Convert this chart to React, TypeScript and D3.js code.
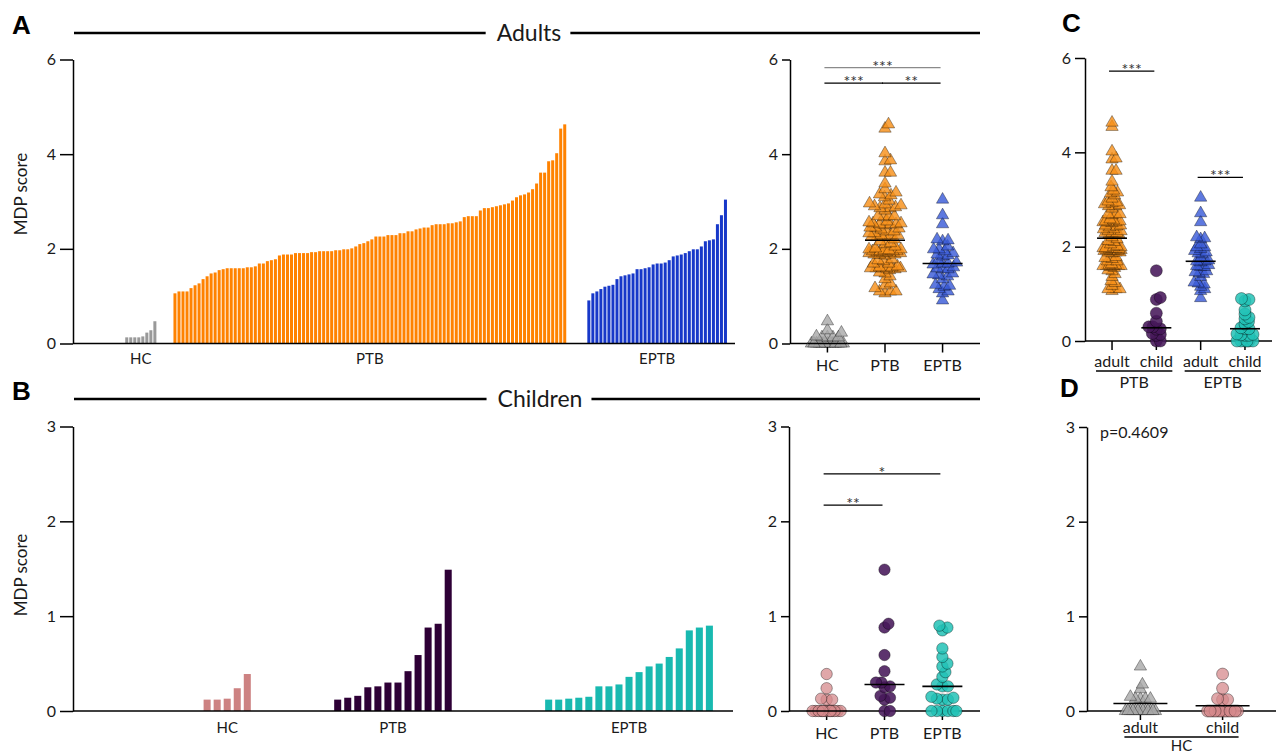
import React, { useEffect, useRef } from 'react';
import * as d3 from 'd3';

const W = 1276;
const H = 754;
const FONT = 'Lato, "Open Sans", Arial, sans-serif';

// MDP scores per patient, sorted ascending within each group
const adultHC = [0, 0, 0, 0, 0, 0, 0, 0, 0, 0, 0, 0, 0, 0.13, 0.13, 0.13, 0.13, 0.15, 0.23, 0.28, 0.47];
const adultPTB = [
  1.06, 1.10, 1.10, 1.10, 1.17, 1.23, 1.27, 1.36, 1.42, 1.48, 1.50, 1.55, 1.57, 1.59, 1.59, 1.59, 1.59, 1.59,
  1.61, 1.61, 1.63, 1.69, 1.69, 1.74, 1.76, 1.78, 1.86, 1.88, 1.88, 1.88, 1.91, 1.91, 1.91, 1.91, 1.93, 1.93,
  1.95, 1.95, 1.95, 1.95, 1.97, 1.97, 1.99, 1.99, 2.01, 2.05, 2.10, 2.12, 2.16, 2.20, 2.26, 2.26, 2.26, 2.29,
  2.29, 2.29, 2.33, 2.33, 2.37, 2.37, 2.41, 2.43, 2.45, 2.45, 2.50, 2.52, 2.52, 2.52, 2.54, 2.54, 2.56, 2.58,
  2.67, 2.69, 2.69, 2.69, 2.81, 2.86, 2.86, 2.88, 2.90, 2.92, 2.94, 2.96, 3.02, 3.09, 3.13, 3.15, 3.19, 3.26,
  3.38, 3.61, 3.61, 3.85, 3.87, 4.02, 4.54, 4.63,
];
const adultEPTB = [
  0.91, 1.06, 1.10, 1.15, 1.20, 1.22, 1.24, 1.36, 1.42, 1.44, 1.46, 1.48, 1.57, 1.57, 1.59, 1.61, 1.67, 1.69,
  1.69, 1.71, 1.76, 1.84, 1.86, 1.88, 1.91, 1.95, 1.99, 1.99, 2.05, 2.16, 2.18, 2.20, 2.52, 2.71, 3.04,
];
const childHC = [0, 0, 0, 0, 0, 0, 0, 0, 0, 0, 0, 0, 0, 0.12, 0.12, 0.13, 0.24, 0.39];
const childPTB = [0, 0, 0.12, 0.14, 0.16, 0.25, 0.26, 0.30, 0.30, 0.42, 0.59, 0.88, 0.92, 1.49];
const childEPTB = [
  0, 0, 0, 0, 0, 0, 0.12, 0.12, 0.13, 0.14, 0.15, 0.26, 0.26, 0.28, 0.36, 0.41, 0.47, 0.50, 0.57, 0.66,
  0.85, 0.88, 0.90,
];

const groupNames = ['HC', 'PTB', 'EPTB'];
const cohortNames = ['adult', 'child'];
const adultTicks = [0, 2, 4, 6];
const childTicks = [0, 1, 2, 3];

const sigAdults = [
  { from: 'HC', to: 'EPTB', level: 5.83, label: '***', color: '#8a8a8a' },
  { from: 'HC', to: 'PTB', level: 5.5, label: '***', color: '#000' },
  { from: 'PTB', to: 'EPTB', level: 5.5, label: '**', color: '#000' },
];
const sigChildren = [
  { from: 'HC', to: 'EPTB', level: 2.5, label: '*', color: '#000' },
  { from: 'HC', to: 'PTB', level: 2.17, label: '**', color: '#000' },
];
const sigCohort = [
  { from: 'PTB-adult', to: 'PTB-child', level: 5.72, label: '***', color: '#000' },
  { from: 'EPTB-adult', to: 'EPTB-child', level: 3.47, label: '***', color: '#000' },
];
const hcPValue = 'p=0.4609';

type G = d3.Selection<SVGGElement, unknown, null, undefined>;

function swarm(values: number[], y: (v: number) => number, dist: number, maxHalf: number) {
  const order = values.map((_, i) => i).sort((a, b) => values[a] - values[b]);
  const cands = [0];
  for (let s = 0.5; s <= maxHalf; s += 0.5) cands.push(s, -s);
  const placed: { dx: number; py: number }[] = [];
  const out: { dx: number; py: number }[] = new Array(values.length);
  for (const i of order) {
    const py = y(values[i]);
    const near = placed.filter(p => Math.abs(p.py - py) < dist);
    let best = 0;
    let bestScore = -Infinity;
    for (const c of cands) {
      let m = Infinity;
      for (const p of near) {
        const d = Math.hypot(c - p.dx, py - p.py);
        if (d < m) m = d;
      }
      if (m >= dist) { best = c; break; }
      if (m > bestScore + 1e-6) { bestScore = m; best = c; }
    }
    const p = { dx: best, py };
    placed.push(p);
    out[i] = p;
  }
  return out;
}

function hline(root: G, x1: number, x2: number, y: number, w = 1.5, color = '#000') {
  root.append('line').attr('x1', x1).attr('x2', x2).attr('y1', y).attr('y2', y)
    .attr('stroke', color).attr('stroke-width', w);
}

function label(root: G, x: number, y: number, t: string, size = 16, anchor = 'middle') {
  return root.append('text').attr('x', x).attr('y', y).attr('text-anchor', anchor)
    .attr('font-size', size).attr('fill', '#1a1a1a').text(t);
}

function yAxis(root: G, y: d3.ScaleLinear<number, number>, x: number, ticks: number[], len: number) {
  const g = root.append('g').attr('transform', `translate(${x},0)`)
    .call(d3.axisLeft(y).tickValues(ticks).tickFormat(d3.format('d')).tickSize(len).tickSizeOuter(0).tickPadding(4));
  g.attr('font-family', FONT).attr('font-size', 16);
  g.selectAll('.domain, .tick line').attr('stroke', '#000').attr('stroke-width', 1.5);
  g.selectAll('text').attr('fill', '#1a1a1a');
}

function barPanel(root: G, groups: { label: string; values: number[]; color: string; gap: number }[],
  tail: number, y: d3.ScaleLinear<number, number>, x0: number, x1: number, pad: number, labelY: number) {
  const keys: string[] = [];
  groups.forEach((g, gi) => {
    d3.range(g.gap).forEach(k => keys.push(`s${gi}-${k}`));
    g.values.forEach((_, i) => keys.push(`b${gi}-${i}`));
  });
  d3.range(tail).forEach(k => keys.push(`t${k}`));
  const x = d3.scaleBand<string>().domain(keys).range([x0, x1]).paddingInner(pad);
  groups.forEach((g, gi) => {
    root.append('g').selectAll('rect').data(g.values).join('rect')
      .attr('x', (_, i) => x(`b${gi}-${i}`)!)
      .attr('width', x.bandwidth())
      .attr('y', d => y(d))
      .attr('height', d => y(0) - y(d))
      .attr('fill', g.color);
    const idx = g.values.map((v, i) => (v > 0 ? i : -1)).filter(i => i >= 0);
    const a = x(`b${gi}-${idx[0]}`)!;
    const b = x(`b${gi}-${idx[idx.length - 1]}`)! + x.bandwidth();
    label(root, (a + b) / 2, labelY, g.label, 15);
  });
  hline(root, x0, x1, y(0));
}

type SGroup = { key: string; values: number[]; shape: 'tri' | 'circle'; fill: string; alpha: number; summary: 'median' | 'mean' };

function scatterPanel(root: G, groups: SGroup[], y: d3.ScaleLinear<number, number>, x0: number, x1: number,
  padding: number, opt: { dist: number; maxHalf: number; half: number; size: number; r: number }) {
  const x = d3.scalePoint<string>().domain(groups.map(g => g.key)).range([x0, x1]).padding(padding);
  hline(root, x0, x1, y(0));
  groups.forEach(g => {
    root.append('line').attr('x1', x(g.key)!).attr('x2', x(g.key)!).attr('y1', y(0)).attr('y2', y(0) + 9)
      .attr('stroke', '#000').attr('stroke-width', 1.5);
  });
  groups.forEach(g => {
    const cx = x(g.key)!;
    const pos = swarm(g.values, y, opt.dist, opt.maxHalf);
    const gg = root.append('g');
    const sel = g.shape === 'tri'
      ? gg.selectAll('path').data(pos).join('path')
        .attr('d', d3.symbol(d3.symbolTriangle, opt.size)())
        .attr('transform', p => `translate(${cx + p.dx},${p.py})`)
      : gg.selectAll('circle').data(pos).join('circle')
        .attr('cx', p => cx + p.dx).attr('cy', p => p.py).attr('r', opt.r);
    sel.attr('fill', g.fill).attr('fill-opacity', g.alpha)
      .attr('stroke', '#000').attr('stroke-opacity', 0.35).attr('stroke-width', 1);
  });
  groups.forEach(g => {
    const cx = x(g.key)!;
    const s = (g.summary === 'mean' ? d3.mean(g.values) : d3.median(g.values))!;
    hline(root, cx - opt.half, cx + opt.half, y(s), 1.6);
  });
  return x;
}

function sig(root: G, x: d3.ScalePoint<string>, y: d3.ScaleLinear<number, number>,
  items: { from: string; to: string; level: number; label: string; color: string }[]) {
  items.forEach(s => {
    const a = x(s.from)! - 3;
    const b = x(s.to)! - 2;
    const ly = y(s.level);
    hline(root, a, b, ly, 1.3, s.color);
    label(root, (a + b) / 2, ly + 4, s.label, 16).attr('fill', '#333');
  });
}

function header(root: G, t: string, cx: number, ly: number, x0: number, x1: number) {
  const txt = label(root, cx, ly + 8, t, 23);
  const bb = (txt.node() as SVGTextElement).getBBox();
  hline(root, x0, bb.x - 11, ly, 2.5);
  hline(root, bb.x + bb.width + 9, x1, ly, 2.5);
}

function panelLetter(root: G, x: number, y: number, t: string) {
  root.append('text').attr('x', x).attr('y', y).attr('font-size', 26).attr('font-weight', 'bold')
    .attr('font-family', '"Liberation Sans", Arial, sans-serif').attr('fill', '#000').text(t);
}

function yTitle(root: G, x: number, y: number) {
  root.append('text').attr('transform', `translate(${x},${y}) rotate(-90)`).attr('text-anchor', 'middle')
    .attr('dominant-baseline', 'central').attr('font-size', 17).attr('fill', '#1a1a1a').text('MDP score');
}

function draw(root: G) {
  const yA = d3.scaleLinear().domain([0, 6]).range([343.5, 59.5]);
  const yB = d3.scaleLinear().domain([0, 3]).range([711, 426.5]);
  const yC = d3.scaleLinear().domain([0, 6]).range([341, 58]);
  const yD = d3.scaleLinear().domain([0, 3]).range([711, 427]);

  panelLetter(root, 12, 34, 'A');
  panelLetter(root, 12, 400, 'B');
  panelLetter(root, 1062, 32, 'C');
  panelLetter(root, 1060, 397, 'D');

  header(root, 'Adults', 529, 33, 74, 980);
  header(root, 'Children', 540, 399, 74, 980);

  // A: bars
  yTitle(root, 20, 194);
  barPanel(root, [
    { label: groupNames[0], values: adultHC, color: '#999999', gap: 0 },
    { label: groupNames[1], values: adultPTB, color: '#ff8200', gap: 4 },
    { label: groupNames[2], values: adultEPTB, color: '#1738c9', gap: 5 },
  ], 2, yA, 73, 735, 0.25, 364);
  yAxis(root, yA, 73, adultTicks, 13);

  // A: scatter
  const xA = scatterPanel(root, [
    { key: 'HC', values: adultHC, shape: 'tri', fill: '#a8a8a8', alpha: 0.8, summary: 'median' },
    { key: 'PTB', values: adultPTB, shape: 'tri', fill: '#f7901a', alpha: 0.82, summary: 'median' },
    { key: 'EPTB', values: adultEPTB, shape: 'tri', fill: '#3a5bd8', alpha: 0.82, summary: 'median' },
  ], yA, 790, 980, 0.65, { dist: 5.5, maxHalf: 16, half: 20, size: 66, r: 6 });
  yAxis(root, yA, 790, adultTicks, 8);
  groupNames.forEach(k => label(root, xA(k)!, 371, k));
  sig(root, xA, yA, sigAdults);

  // B: bars
  yTitle(root, 20, 575);
  barPanel(root, [
    { label: groupNames[0], values: childHC, color: '#cd8282', gap: 0 },
    { label: groupNames[1], values: childPTB, color: '#2e0036', gap: 6 },
    { label: groupNames[2], values: childEPTB, color: '#18b9b0', gap: 3 },
  ], 2, yB, 73, 733, 0.3, 733);
  yAxis(root, yB, 73, childTicks, 13);

  // B: scatter
  const xB = scatterPanel(root, [
    { key: 'HC', values: childHC, shape: 'circle', fill: '#d68a8c', alpha: 0.75, summary: 'median' },
    { key: 'PTB', values: childPTB, shape: 'circle', fill: '#47185a', alpha: 0.88, summary: 'median' },
    { key: 'EPTB', values: childEPTB, shape: 'circle', fill: '#22c2b6', alpha: 0.85, summary: 'median' },
  ], yB, 789, 980, 0.65, { dist: 5.5, maxHalf: 14, half: 20, size: 66, r: 5.7 });
  yAxis(root, yB, 789, childTicks, 8);
  groupNames.forEach(k => label(root, xB(k)!, 739, k));
  sig(root, xB, yB, sigChildren);

  // C: adult vs child within PTB / EPTB
  const xC = scatterPanel(root, [
    { key: 'PTB-adult', values: adultPTB, shape: 'tri', fill: '#f7901a', alpha: 0.82, summary: 'median' },
    { key: 'PTB-child', values: childPTB, shape: 'circle', fill: '#47185a', alpha: 0.88, summary: 'median' },
    { key: 'EPTB-adult', values: adultEPTB, shape: 'tri', fill: '#3a5bd8', alpha: 0.82, summary: 'median' },
    { key: 'EPTB-child', values: childEPTB, shape: 'circle', fill: '#22c2b6', alpha: 0.85, summary: 'median' },
  ], yC, 1085, 1272, 0.61, { dist: 4, maxHalf: 9, half: 15, size: 66, r: 6 });
  yAxis(root, yC, 1085, adultTicks, 10);
  ['PTB', 'EPTB'].forEach(grp => {
    cohortNames.forEach(c => label(root, xC(`${grp}-${c}`)!, 367, c));
    const a = xC(`${grp}-adult`)! - 16;
    const b = xC(`${grp}-child`)! + 16;
    hline(root, a, b, 371, 1.3);
    label(root, (a + b) / 2, 388, grp);
  });
  sig(root, xC, yC, sigCohort);

  // D: HC adult vs child
  const xD = scatterPanel(root, [
    { key: 'adult', values: adultHC, shape: 'tri', fill: '#a8a8a8', alpha: 0.8, summary: 'mean' },
    { key: 'child', values: childHC, shape: 'circle', fill: '#d68a8c', alpha: 0.75, summary: 'mean' },
  ], yD, 1087, 1276, 0.65, { dist: 5, maxHalf: 17, half: 27, size: 66, r: 6 });
  yAxis(root, yD, 1087, childTicks, 8);
  cohortNames.forEach(c => label(root, xD(c)!, 733, c));
  const da = xD('adult')! - 16;
  const db = xD('child')! + 16;
  hline(root, da, db, 737, 1.3);
  label(root, (da + db) / 2, 751, 'HC', 15);
  label(root, 1100, 438, hcPValue, 16, 'start');
}

export default function App() {
  const ref = useRef<SVGSVGElement>(null);
  useEffect(() => {
    const svg = d3.select(ref.current);
    svg.selectAll('*').remove();
    const root = svg.append('g') as unknown as G;
    draw(root);
  }, []);
  return (
    <svg
      ref={ref}
      width={W}
      height={H}
      fontFamily={FONT}
      style={{ position: 'absolute', left: 0, top: 0, background: '#fff' }}
    />
  );
}
